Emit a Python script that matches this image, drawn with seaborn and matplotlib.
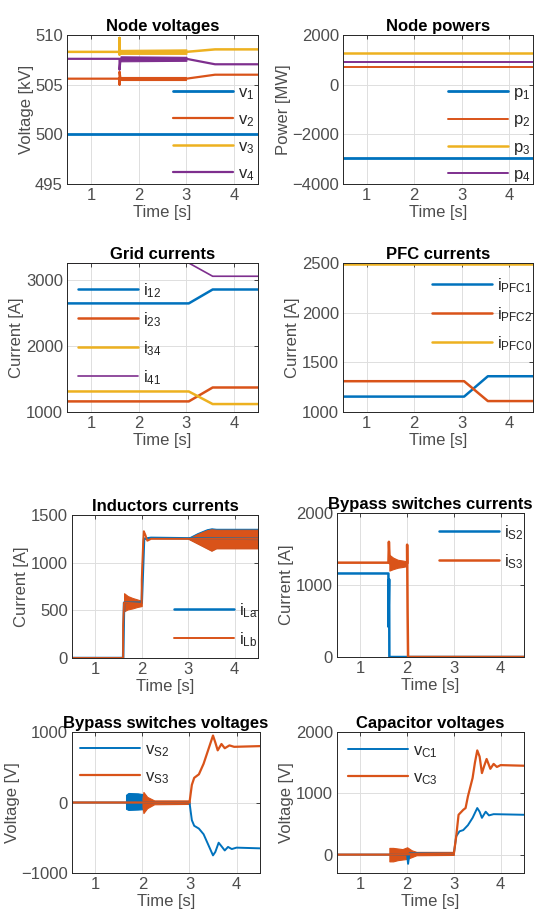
import numpy as np
import pandas as pd
import matplotlib
matplotlib.use("Agg")
import matplotlib.pyplot as plt
import seaborn as sns

# MATLAB default line colours
BLUE = "#0072BD"
ORANGE = "#D95319"
YELLOW = "#EDB120"
PURPLE = "#7E2F8E"

# ---- Node voltages [kV] ----
v1_t = [0.5, 4.5]
v1 = [500.0, 500.0]
v2_t = [0.5, 1.6, 1.6, 1.6, 1.62, 3.0, 3.6, 4.5]
v2 = [505.6, 505.6, 505.0, 506.3, 505.6, 505.6, 506.0, 506.0]
v2_band_t = [1.62, 3.0]
v2_band_lo = [505.45, 505.45]
v2_band_hi = [505.8, 505.8]
v3_t = [0.5, 1.6, 1.6, 1.6, 1.62, 3.0, 3.6, 4.5]
v3 = [508.3, 508.3, 509.7, 508.0, 508.3, 508.3, 508.55, 508.55]
v3_band_t = [1.62, 3.0]
v3_band_lo = [508.1, 508.1]
v3_band_hi = [508.5, 508.55]
v4_t = [0.5, 1.6, 1.6, 1.62, 3.0, 3.6, 4.5]
v4 = [507.6, 507.6, 506.5, 507.6, 507.6, 507.05, 507.05]
v4_band_t = [1.62, 3.0]
v4_band_lo = [507.35, 507.4]
v4_band_hi = [507.85, 507.8]

# ---- Node powers [MW] ----
p_t = [0.5, 4.5]
p1 = [-2960, -2960]
p2 = [710, 710]
p3 = [1270, 1270]
p4 = [910, 910]

# ---- Grid currents [A] ----
ig_t = [0.5, 3.05, 3.55, 4.5]
i12 = [2640, 2640, 2850, 2850]
i23 = [1160, 1160, 1370, 1370]
i34 = [1310, 1310, 1120, 1120]
i41 = [3250, 3250, 3050, 3050]

# ---- PFC currents [A] ----
ipfc_t = [0.5, 3.05, 3.55, 4.5]
ipfc1 = [1155, 1155, 1360, 1360]
ipfc2 = [1310, 1310, 1110, 1110]
ipfc0 = [2490, 2490, 2490, 2490]

# ---- Inductor currents [A] ----
iLa_t = [0.5, 1.6, 1.62, 2.0, 2.05, 2.2, 3.0, 4.5]
iLa = [0, 0, 580, 580, 1250, 1260, 1255, 1250]
iLb_t = [0.5, 1.6, 1.6, 1.62, 2.0, 2.0, 2.03, 2.045, 2.08, 2.12, 2.2, 3.0, 4.5]
iLb = [0, 0, 340, 580, 570, 820, 1200, 1330, 1290, 1230, 1250, 1250, 1250]
iLb_band1_t = [1.62, 1.7, 1.8, 1.9, 2.0]
iLb_band1_lo = [490, 510, 520, 535, 545]
iLb_band1_hi = [680, 650, 630, 615, 600]
iLb_band2_t = [3.0, 3.2, 3.4, 3.5, 3.6, 4.5]
iLb_band2_lo = [1250, 1200, 1150, 1125, 1150, 1150]
iLb_band2_hi = [1250, 1300, 1340, 1350, 1345, 1345]

# ---- Bypass switch currents [A] ----
iS2_t = [0.5, 1.6, 1.6, 1.615, 1.62, 4.5]
iS2 = [1160, 1160, 420, 1080, 0, 0]
iS3_t = [0.5, 1.6, 1.61, 1.63, 1.98, 2.0, 2.0, 2.01, 2.02, 4.5]
iS3 = [1310, 1310, 1600, 1300, 1300, 1300, 1560, 620, 0, 0]
iS3_band_t = [1.62, 1.7, 1.8, 1.9, 1.98]
iS3_band_lo = [1200, 1220, 1240, 1250, 1260]
iS3_band_hi = [1420, 1380, 1350, 1340, 1330]

# ---- Bypass switch voltages [V] ----
vS2_t = [0.5, 1.65, 2.0, 3.0, 3.05, 3.1, 3.2, 3.3, 3.4, 3.5, 3.55, 3.62, 3.68,
         3.75, 3.82, 3.9, 4.0, 4.5]
vS2 = [0, 0, 0, 0, -250, -330, -370, -450, -600, -750, -700, -570, -620,
       -680, -630, -660, -640, -650]
vS2_band_t = [1.65, 1.7, 1.9, 2.0]
vS2_band_lo = [-90, -105, -100, -95]
vS2_band_hi = [110, 135, 130, 120]
vS3_t = [0.5, 2.0, 3.0, 3.05, 3.1, 3.2, 3.3, 3.4, 3.5, 3.55, 3.6, 3.68, 3.75,
         3.85, 3.95, 4.5]
vS3 = [0, 0, 0, 250, 350, 400, 550, 750, 950, 850, 740, 830, 770,
       810, 790, 800]
vS3_band_t = [2.0, 2.02, 2.1, 2.25, 3.0]
vS3_band_lo = [-60, -150, -80, -25, -20]
vS3_band_hi = [60, 150, 80, 30, 30]

# ---- Capacitor voltages [V] ----
vC1_t = [0.5, 2.0, 2.02, 2.05, 3.0, 3.05, 3.12, 3.2, 3.3, 3.4, 3.5, 3.55, 3.6,
         3.68, 3.75, 3.85, 4.5]
vC1 = [0, 0, -150, 20, 20, 300, 380, 400, 480, 600, 760, 700, 600,
       700, 640, 660, 650]
vC3_t = [0.5, 1.6, 3.0, 3.05, 3.1, 3.2, 3.25, 3.3, 3.4, 3.45, 3.5, 3.55, 3.6,
         3.65, 3.7, 3.78, 3.85, 3.92, 4.0, 4.5]
vC3 = [0, 0, 20, 300, 650, 730, 760, 950, 1250, 1500, 1700, 1600, 1330,
       1450, 1560, 1400, 1480, 1430, 1460, 1450]
vC3_band_t = [1.62, 1.7, 1.8, 1.9, 2.0, 2.1, 2.2, 3.0]
vC3_band_lo = [-110, -110, -90, -80, -70, -40, -10, -5]
vC3_band_hi = [110, 110, 100, 90, 120, 70, 45, 45]

XTICKS = [1, 2, 3, 4]

sns.set_theme(style="white")
plt.rcParams["font.family"] = ["Liberation Sans", "DejaVu Sans"]
plt.rcParams["mathtext.fontset"] = "custom"
plt.rcParams["mathtext.rm"] = "Liberation Sans"
plt.rcParams["mathtext.default"] = "regular"

FS = 12
TXT = "#4d4d4d"


def line(ax, t, y, color, lw=1.6, label=None):
    sns.lineplot(x=t, y=y, ax=ax, color=color, linewidth=lw, estimator=None,
                 sort=False, label=label, legend=False)


def band(ax, t, lo, hi, color):
    ax.fill_between(t, lo, hi, color=color, linewidth=0.8, edgecolor=color)


def style(ax, title, ylabel, ylim, yticks):
    ax.set_xlim(0.5, 4.5)
    ax.set_ylim(*ylim)
    ax.set_xticks(XTICKS)
    ax.set_yticks(yticks)
    ax.set_title(title, fontsize=FS, fontweight="bold", color="black", pad=3)
    ax.set_xlabel("Time [s]", fontsize=FS, color=TXT, labelpad=1)
    ax.set_ylabel(ylabel, fontsize=FS, color=TXT, labelpad=1)
    ax.tick_params(direction="in", length=3, width=0.6, top=True, right=True,
                   labelsize=FS, pad=3, colors="#262626")
    ax.tick_params(labelcolor=TXT)
    ax.grid(True, color="#dedede", linewidth=0.7)
    ax.set_axisbelow(True)
    for s in ax.spines.values():
        s.set_color("#262626")
        s.set_linewidth(0.7)


def legend(ax, anchor):
    ax.legend(loc="upper left", bbox_to_anchor=anchor, frameon=False,
              fontsize=FS, handlelength=3.6, handletextpad=0.3,
              labelspacing=0.62, borderpad=0, borderaxespad=0)


fig = plt.figure(figsize=(5.34, 9.18), dpi=100)

# 1 Node voltages
ax = fig.add_axes([0.1255, 0.7996, 0.3577, 0.1623])
line(ax, v1_t, v1, BLUE, 2.0, r"v$_1$")
line(ax, v2_t, v2, ORANGE, 1.6, r"v$_2$")
line(ax, v3_t, v3, YELLOW, 1.8, r"v$_3$")
line(ax, v4_t, v4, PURPLE, 1.6, r"v$_4$")
band(ax, v2_band_t, v2_band_lo, v2_band_hi, ORANGE)
band(ax, v3_band_t, v3_band_lo, v3_band_hi, YELLOW)
band(ax, v4_band_t, v4_band_lo, v4_band_hi, PURPLE)
style(ax, "Node voltages", "Voltage [kV]", (495, 510), [495, 500, 505, 510])
legend(ax, (0.555, 0.664))

# 2 Node powers
ax = fig.add_axes([0.6423, 0.7996, 0.3558, 0.1623])
line(ax, p_t, p1, BLUE, 2.0, r"p$_1$")
line(ax, p_t, p2, ORANGE, 1.4, r"p$_2$")
line(ax, p_t, p3, YELLOW, 1.8, r"p$_3$")
line(ax, p_t, p4, PURPLE, 1.4, r"p$_4$")
style(ax, "Node powers", "Power [MW]", (-4000, 2000),
      [-4000, -2000, 0, 2000])
legend(ax, (0.555, 0.664))

# 3 Grid currents
ax = fig.add_axes([0.1255, 0.5512, 0.3577, 0.1623])
line(ax, ig_t, i12, BLUE, 1.8, r"i$_{12}$")
line(ax, ig_t, i23, ORANGE, 1.8, r"i$_{23}$")
line(ax, ig_t, i34, YELLOW, 1.8, r"i$_{34}$")
line(ax, ig_t, i41, PURPLE, 1.2, r"i$_{41}$")
style(ax, "Grid currents", "Current [A]", (1000, 3250), [1000, 2000, 3000])
legend(ax, (0.06, 0.879))

# 4 PFC currents
ax = fig.add_axes([0.6423, 0.5512, 0.3558, 0.1623])
line(ax, ipfc_t, ipfc1, BLUE, 1.8, r"i$_{PFC1}$")
line(ax, ipfc_t, ipfc2, ORANGE, 1.8, r"i$_{PFC2}$")
line(ax, ipfc_t, ipfc0, YELLOW, 1.8, r"i$_{PFC0}$")
style(ax, "PFC currents", "Current [A]", (1000, 2500),
      [1000, 1500, 2000, 2500])
legend(ax, (0.47, 0.913))

# 5 Inductors currents
ax = fig.add_axes([0.1348, 0.2832, 0.3483, 0.1558])
line(ax, iLa_t, iLa, BLUE, 1.8, r"i$_{La}$")
band(ax, iLb_band2_t, [v + 5 for v in iLb_band2_lo],
     [v + 10 for v in iLb_band2_hi], BLUE)
line(ax, iLb_t, iLb, ORANGE, 1.4, r"i$_{Lb}$")
band(ax, iLb_band1_t, iLb_band1_lo, iLb_band1_hi, ORANGE)
band(ax, iLb_band2_t, iLb_band2_lo, iLb_band2_hi, ORANGE)
style(ax, "Inductors currents", "Current [A]", (0, 1500),
      [0, 500, 1000, 1500])
legend(ax, (0.55, 0.399))

# 6 Bypass switches currents
ax = fig.add_axes([0.6311, 0.2843, 0.3502, 0.1569])
line(ax, iS2_t, iS2, BLUE, 1.8, r"i$_{S2}$")
line(ax, iS3_t, iS3, ORANGE, 1.8, r"i$_{S3}$")
band(ax, iS3_band_t, iS3_band_lo, iS3_band_hi, ORANGE)
style(ax, "Bypass switches currents", "Current [A]", (0, 2000),
      [0, 1000, 2000])
legend(ax, (0.545, 0.93))

# 7 Bypass switches voltages
ax = fig.add_axes([0.1348, 0.0490, 0.3521, 0.1536])
line(ax, vS2_t, vS2, BLUE, 1.4, r"v$_{S2}$")
band(ax, vS2_band_t, vS2_band_lo, vS2_band_hi, BLUE)
line(ax, vS3_t, vS3, ORANGE, 1.6, r"v$_{S3}$")
band(ax, vS3_band_t, vS3_band_lo, vS3_band_hi, ORANGE)
style(ax, "Bypass switches voltages", "Voltage [V]", (-1000, 1000),
      [-1000, 0, 1000])
legend(ax, (0.04, 0.93))

# 8 Capacitor voltages
ax = fig.add_axes([0.6311, 0.0490, 0.3502, 0.1536])
line(ax, vC1_t, vC1, BLUE, 1.4, r"v$_{C1}$")
line(ax, vC3_t, vC3, ORANGE, 1.6, r"v$_{C3}$")
band(ax, vC3_band_t, vC3_band_lo, vC3_band_hi, ORANGE)
style(ax, "Capacitor voltages", "Voltage [V]", (-300, 2000),
      [0, 1000, 2000])
legend(ax, (0.06, 0.92))

fig.savefig("out.png", dpi=100)
